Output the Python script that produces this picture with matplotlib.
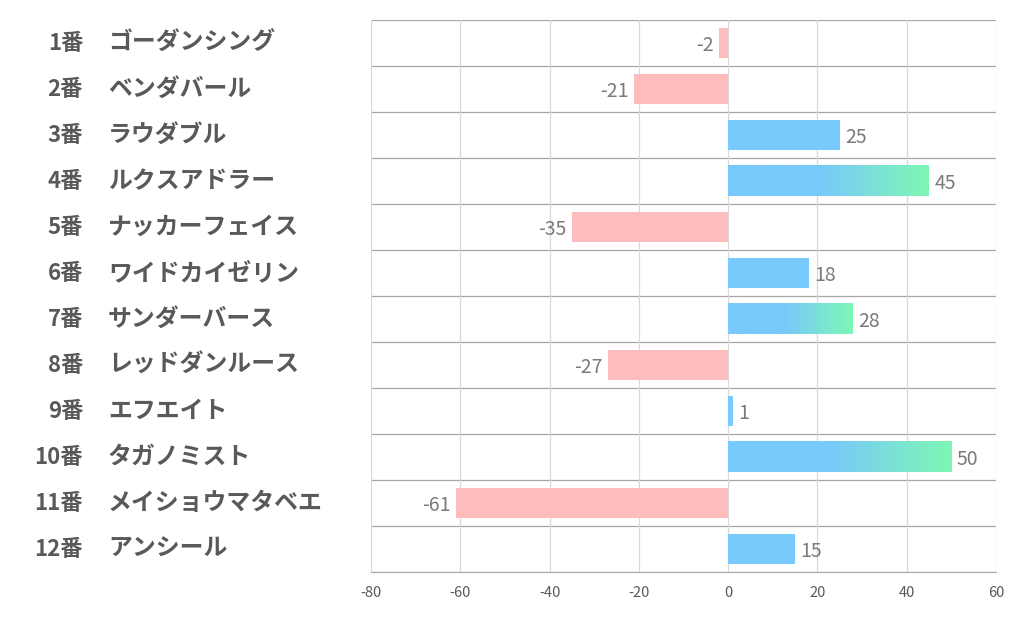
import numpy as np
import matplotlib
matplotlib.use("Agg")
import matplotlib.pyplot as plt
from matplotlib.colors import LinearSegmentedColormap

plt.rcParams['font.family'] = ['Noto Sans CJK JP', 'DejaVu Sans']

numbers = ['1番', '2番', '3番', '4番', '5番', '6番', '7番', '8番', '9番', '10番', '11番', '12番']
names = ['ゴーダンシング', 'ベンダバール', 'ラウダブル', 'ルクスアドラー', 'ナッカーフェイス',
         'ワイドカイゼリン', 'サンダーバース', 'レッドダンルース', 'エフエイト', 'タガノミスト',
         'メイショウマタベエ', 'アンシール']
values = [-2, -21, 25, 45, -35, 18, 28, -27, 1, 50, -61, 15]

blue = '#78c9fc'
green = '#7ef7b4'
pink = '#ffbcbc'
grad_cmap = LinearSegmentedColormap.from_list('bg', [(0, blue), (0.45, blue), (1, green)])

fig = plt.figure(figsize=(10.22, 6.26), dpi=100)
ax = fig.add_axes([371 / 1022, 54 / 626, 625 / 1022, 552 / 626])

n = len(values)
ypos = np.arange(n)
bar_h = 0.67
for y, v in zip(ypos, values):
    if v < 0:
        ax.barh(y, v, height=bar_h, color=pink, zorder=2)
    elif v >= 28:
        grad = np.linspace(0, 1, 256).reshape(1, -1)
        ax.imshow(grad, cmap=grad_cmap, aspect='auto', zorder=2,
                  extent=(0, v, y + bar_h / 2, y - bar_h / 2), interpolation='bilinear')
    else:
        ax.barh(y, v, height=bar_h, color=blue, zorder=2)

    if v < 0:
        ax.annotate(str(v), (v, y), xytext=(-4, -2), textcoords='offset points',
                    ha='right', va='center', fontsize=14, color='#7a7a7a')
    else:
        ax.annotate(str(v), (v, y), xytext=(4, -2), textcoords='offset points',
                    ha='left', va='center', fontsize=14, color='#7a7a7a')

ax.set_xlim(-80, 60)
ax.set_ylim(n - 0.5, -0.5)
ax.set_xticks(range(-80, 61, 20))
ax.set_xticklabels([str(t) for t in range(-80, 61, 20)])
ax.set_yticks([])
ax.tick_params(axis='x', length=0, labelsize=10.5, colors='#595959', pad=10)

ax.grid(axis='x', color='#d9d9d9', linewidth=0.9, zorder=0)
for b in np.arange(-0.5, n, 1.0):
    ax.axhline(b, color='#a6a6a6', linewidth=0.9, zorder=1)
for s in ['left', 'right', 'top']:
    ax.spines[s].set_visible(False)
ax.spines['bottom'].set_color('#a6a6a6')

tr = ax.get_yaxis_transform()
for y, num, nm in zip(ypos, numbers, names):
    ax.text(-0.4608, y, num, transform=tr, ha='right', va='center',
            fontsize=16, fontweight='bold', color='#595959')
    ax.text(-0.4208, y, nm, transform=tr, ha='left', va='center',
            fontsize=17.2, fontweight='bold', color='#595959')

fig.savefig('out.png', dpi=100)
